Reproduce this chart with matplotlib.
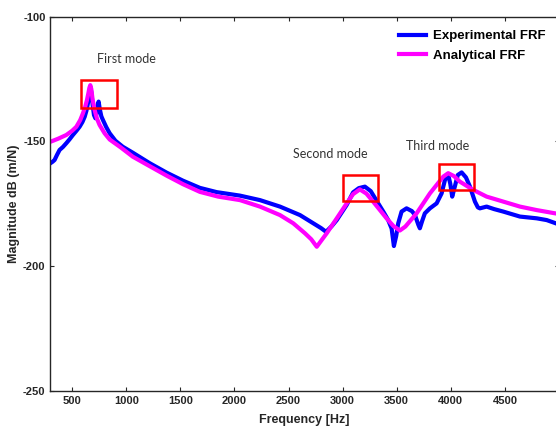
import matplotlib
matplotlib.use("Agg")
import matplotlib.pyplot as plt
from matplotlib.patches import Rectangle

# ------------------------------------
# Data (Hz, dB)
# ------------------------------------
exp_freq = [300, 320, 338, 360, 384, 415, 446, 475, 507, 540, 569, 595, 616, 632,
            646, 658, 668, 678, 690, 702, 715, 728, 738, 745, 755, 770, 785, 815,
            847, 900, 968, 1061, 1217, 1374, 1524, 1681, 1836, 2051, 2236, 2421,
            2606, 2729, 2800, 2847, 2900, 2946, 3038, 3097, 3150, 3206, 3260, 3329,
            3380, 3420, 3453, 3474, 3495, 3514, 3545, 3591, 3640, 3668, 3700, 3714,
            3735, 3760, 3807, 3869, 3915, 3946, 3976, 3995, 4013, 4035, 4065, 4100,
            4140, 4177, 4223, 4250, 4269, 4331, 4400, 4485, 4639, 4794, 4886, 4990]
exp_mag = [-158.8, -158.2, -157.5, -155.5, -153.5, -152.3, -150.8, -149.3, -147.5,
           -145.8, -144.2, -142.3, -140.2, -137.8, -134.8, -131.0, -128.1, -130.5,
           -135.5, -139.5, -140.8, -138.5, -135.0, -134.1, -137.0, -140.0, -141.5,
           -144.3, -146.8, -149.8, -152.2, -154.6, -158.8, -162.6, -165.8, -168.7,
           -170.4, -171.8, -173.6, -176.2, -179.6, -182.9, -184.8, -186.3, -184.0,
           -181.6, -175.5, -170.5, -168.8, -168.2, -170.0, -174.9, -178.5, -181.5,
           -185.0, -192.0, -188.0, -182.9, -178.2, -176.9, -178.0, -179.5, -183.5,
           -184.9, -182.0, -178.9, -176.9, -174.9, -170.9, -165.5, -163.5, -167.0,
           -172.2, -168.5, -163.5, -162.5, -164.5, -168.2, -174.2, -176.5, -176.9,
           -176.2, -177.2, -178.2, -180.2, -180.9, -181.6, -183.2]

ana_freq = [300, 370, 446, 500, 539, 575, 600, 620, 637, 650, 660, 668, 677, 690,
            708, 730, 754, 800, 847, 950, 1061, 1217, 1374, 1524, 1681, 1850, 2051,
            2236, 2421, 2544, 2652, 2710, 2761, 2800, 2853, 2946, 3038, 3097, 3159,
            3220, 3282, 3406, 3470, 3529, 3580, 3684, 3807, 3930, 3976, 4030, 4084,
            4207, 4331, 4485, 4639, 4794, 4990]
ana_mag = [-150.2, -149.0, -147.5, -145.8, -144.2, -141.5, -138.8, -136.3, -133.5,
           -130.8, -128.5, -127.5, -129.0, -133.5, -137.5, -141.0, -143.5, -146.8,
           -149.3, -152.5, -156.2, -160.0, -163.8, -167.2, -170.3, -172.2, -173.6,
           -176.2, -179.6, -182.9, -186.9, -189.3, -192.3, -190.0, -186.9, -180.9,
           -174.9, -171.2, -169.3, -171.0, -174.2, -180.9, -184.0, -185.8, -184.2,
           -178.9, -170.9, -164.2, -162.8, -164.0, -166.2, -169.5, -172.2, -174.2,
           -176.2, -177.6, -179.1]

# mode boxes: (f_lo, f_hi, dB_lo, dB_hi)
mode_boxes = [(580, 912, -136.6, -125.5),
              (3000, 3326, -174.1, -163.4),
              (3890, 4217, -169.5, -159.2)]
mode_labels = ["First mode", "Second mode", "Third mode"]
label_pos = [(727, -117.2), (2540, -155.1), (3582, -151.9)]

xticks = [500, 1000, 1500, 2000, 2500, 3000, 3500, 4000, 4500]
yticks = [-250, -200, -150, -100]

# ------------------------------------
# Plot
# ------------------------------------
plt.rcParams["font.family"] = ["Liberation Sans", "DejaVu Sans"]
plt.rcParams["axes.unicode_minus"] = False

fig = plt.figure(figsize=(5.56, 4.29), dpi=100)
ax = fig.add_axes([0.0908, 0.0893, 1.0054 - 0.0908, 0.9615 - 0.0893])

ax.plot(exp_freq, exp_mag, color="#0000ff", linewidth=3.0,
        solid_joinstyle="round", label="Experimental FRF")
ax.plot(ana_freq, ana_mag, color="#ff00ff", linewidth=3.0,
        solid_joinstyle="round", label="Analytical FRF")

for (f0, f1, d0, d1) in mode_boxes:
    ax.add_patch(Rectangle((f0, d0), f1 - f0, d1 - d0, fill=False,
                           edgecolor="#ff0000", linewidth=1.8, zorder=5))

for txt, (fx, fy) in zip(mode_labels, label_pos):
    ax.text(fx, fy, txt, fontsize=9, color="#333333", family=["Lato", "DejaVu Sans"],
            ha="left", va="center")

ax.set_xlim(300, 5000)
ax.set_ylim(-250, -100)
ax.set_xticks(xticks)
ax.set_yticks(yticks)
ax.tick_params(direction="in", length=3, top=True, right=True,
               labelsize=8, colors="#262626")
for lbl in ax.get_xticklabels() + ax.get_yticklabels():
    lbl.set_fontweight("bold")
for sp in ax.spines.values():
    sp.set_color("#262626")
    sp.set_linewidth(1.0)

ax.set_xlabel("Frequency [Hz]", fontsize=9, fontweight="bold", color="#262626",
              labelpad=6)
ax.set_ylabel("Magnitude dB (m/N)", fontsize=9, fontweight="bold", color="#262626",
              labelpad=2)

leg = ax.legend(loc="upper right", bbox_to_anchor=(0.998, 0.995), frameon=False,
                prop={"weight": "bold", "size": 9.5}, handlelength=2.0,
                labelspacing=0.55, handletextpad=0.6)

fig.savefig("out.png", dpi=100)
plt.close(fig)
